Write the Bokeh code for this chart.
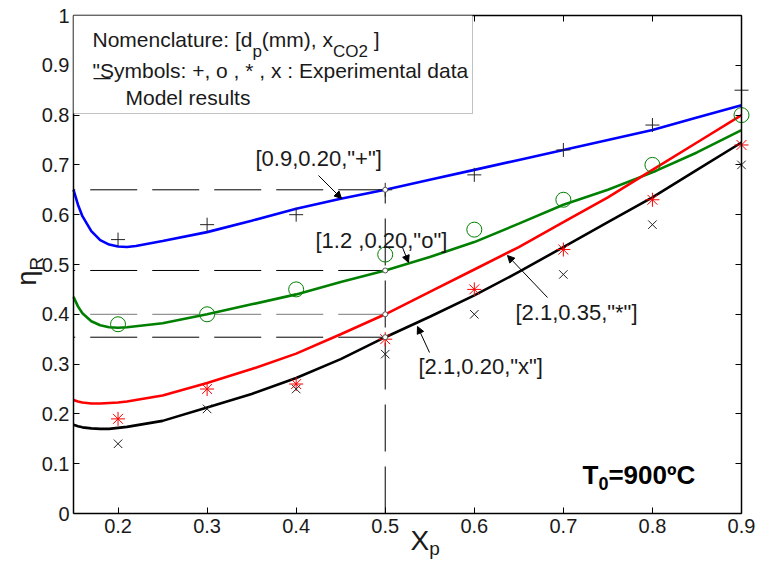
import numpy as np
from bokeh.plotting import figure
from bokeh.models import Range1d, FixedTicker, LinearAxis, Label, Arrow, NormalHead, BoxAnnotation
from bokeh.embed import file_html
from bokeh.resources import INLINE

# ---- model results: eta_R versus X_p for the four runs ----
x_model = [0.15, 0.155, 0.16, 0.17, 0.18, 0.19, 0.20, 0.21, 0.22, 0.25, 0.30, 0.35,
           0.40, 0.45, 0.50, 0.55, 0.60, 0.65, 0.70, 0.75, 0.80, 0.85, 0.90]
eta_09_020 = [0.650, 0.620, 0.597, 0.567, 0.549, 0.540, 0.536, 0.535, 0.537, 0.547, 0.565, 0.588,
              0.612, 0.632, 0.650, 0.670, 0.690, 0.710, 0.730, 0.750, 0.770, 0.795, 0.820]
eta_12_020 = [0.435, 0.416, 0.402, 0.386, 0.378, 0.374, 0.373, 0.374, 0.376, 0.382, 0.400, 0.420,
              0.440, 0.465, 0.488, 0.515, 0.545, 0.582, 0.620, 0.650, 0.685, 0.725, 0.770]
eta_21_035 = [0.228, 0.225, 0.223, 0.221, 0.221, 0.222, 0.223, 0.225, 0.228, 0.237, 0.262, 0.290,
              0.321, 0.360, 0.400, 0.445, 0.490, 0.535, 0.585, 0.635, 0.690, 0.745, 0.800]
eta_21_020 = [0.178, 0.175, 0.173, 0.171, 0.170, 0.170, 0.172, 0.174, 0.177, 0.186, 0.213, 0.240,
              0.272, 0.310, 0.354, 0.395, 0.438, 0.485, 0.535, 0.585, 0.635, 0.690, 0.745]

# ---- experimental data ----
x_exp = [0.2, 0.3, 0.4, 0.5, 0.6, 0.7, 0.8, 0.9]
exp_plus = [0.55, 0.58, 0.60, 0.65, 0.68, 0.73, 0.78, 0.85]     # [0.9, 0.20, "+"]
exp_circle = [0.38, 0.40, 0.45, 0.52, 0.57, 0.63, 0.70, 0.80]   # [1.2, 0.20, "o"]
exp_star = [0.19, 0.25, 0.26, 0.35, 0.45, 0.53, 0.63, 0.74]     # [2.1, 0.35, "*"]
exp_cross = [0.14, 0.21, 0.25, 0.32, 0.40, 0.48, 0.58, 0.70]    # [2.1, 0.20, "x"]

# ---- axes ----
x_ticks = [0.2, 0.3, 0.4, 0.5, 0.6, 0.7, 0.8, 0.9]
x_tick_labels = ["0.2", "0.3", "0.4", "0.5", "0.6", "0.7", "0.8", "0.9"]
y_ticks = [0.0, 0.1, 0.2, 0.3, 0.4, 0.5, 0.6, 0.7, 0.8, 0.9, 1.0]
y_tick_labels = ["0", "0.1", "0.2", "0.3", "0.4", "0.5", "0.6", "0.7", "0.8", "0.9", "1"]
X_MIN, X_MAX = 0.15, 0.9
Y_MIN, Y_MAX = 0.0, 1.0
x_ref = 0.5   # conversion at which the reading lines are drawn

FONT = "Liberation Sans"
INK = "#1a1a1a"
BLUE, GREEN, RED = "#0000ff", "#008000", "#ff0000"

# canvas and the pixel box occupied by the axes
W, H = 757, 561
AX_L, AX_R, AX_T, AX_B = 73, 741, 15, 513
SX = (X_MAX - X_MIN) / (AX_R - AX_L)
SY = (Y_MAX - Y_MIN) / (AX_B - AX_T)


def dx(px):
    return X_MIN + (px - AX_L) * SX


def dy(py):
    return Y_MIN + (AX_B - py) * SY


# the frame fills the whole canvas; the axes sit at fixed data locations inside it,
# so the axis titles and all texts can be laid out freely
p = figure(width=W, height=H, x_range=Range1d(dx(0), dx(W)), y_range=Range1d(dy(H), dy(0)),
           output_backend="svg", toolbar_location=None,
           min_border_left=0, min_border_right=0, min_border_top=0, min_border_bottom=0)
p.grid.visible = False
p.background_fill_color = "white"
p.border_fill_color = "white"
p.outline_line_color = None


def style_axis(ax, ticks, labels, show, loc, bounds):
    ax.fixed_location = loc
    ax.bounds = bounds
    ax.ticker = FixedTicker(ticks=ticks)
    ax.major_label_overrides = {t: (l if show else "") for t, l in zip(ticks, labels)}
    ax.major_tick_in = 6
    ax.major_tick_out = 0
    ax.minor_tick_line_color = None
    ax.axis_line_width = 1.5
    ax.axis_line_color = "black"
    ax.major_tick_line_color = "black"
    ax.major_label_text_font = FONT
    ax.major_label_text_font_size = "20px"
    ax.major_label_text_color = INK
    ax.axis_label = None


style_axis(p.xaxis[0], x_ticks, x_tick_labels, True, Y_MIN, (X_MIN, X_MAX))
p.xaxis[0].major_label_standoff = 5
style_axis(p.yaxis[0], y_ticks, y_tick_labels, True, X_MIN, (Y_MIN, Y_MAX))
p.yaxis[0].major_label_standoff = 4
top_ax = LinearAxis()
style_axis(top_ax, x_ticks, x_tick_labels, False, Y_MAX, (X_MIN, X_MAX))
right_ax = LinearAxis()
style_axis(right_ax, y_ticks, y_tick_labels, False, X_MAX, (Y_MIN, Y_MAX))
p.add_layout(top_ax, "above")
p.add_layout(right_ax, "right")

# ---- reading lines at X_p = 0.5 ----
DASH = "47 15"
curves = [(eta_09_020, BLUE, "black"), (eta_12_020, GREEN, "black"),
          (eta_21_035, RED, "#7a7a7a"), (eta_21_020, "black", "black")]
ref_vals = [float(np.interp(x_ref, x_model, c)) for c, _, _ in curves]
for (c, _, dash_col), yv in zip(curves, ref_vals):
    p.line([x_ref, X_MIN], [yv, yv], line_color=dash_col, line_width=1, line_dash=DASH)
p.line([x_ref, x_ref], [Y_MIN, max(ref_vals)], line_color="black", line_width=1, line_dash=DASH)

# ---- model curves ----
for c, col, _ in curves:
    p.line(x_model, c, line_color=col, line_width=2.6)

# ---- experimental points ----
p.scatter(x_exp, exp_plus, marker="cross", size=14, line_color="#222222", line_width=1)
p.scatter(x_exp, exp_circle, marker="circle", size=15, line_color=GREEN, fill_color=None, line_width=1)
p.scatter(x_exp, exp_star, marker="asterisk", size=14, line_color=RED, line_width=1)
p.scatter(x_exp, exp_cross, marker="x", size=12, line_color="#222222", line_width=1)

# small markers where the reading lines meet the curves
p.scatter([x_ref] * len(ref_vals), ref_vals, marker="circle", size=5,
          line_color="#555555", fill_color="white", line_width=1)

# ---- text helpers (Arial-metric advance widths, 1/1000 em) ----
ADV = {' ': 278, '"': 355, '(': 333, ')': 333, '*': 389, '+': 584, ',': 278, '.': 278,
       ':': 278, '=': 584, '[': 278, ']': 278, 'C': 722, 'E': 667, 'M': 833, 'N': 722,
       'O': 778, 'R': 722, 'S': 667, 'T': 611, 'X': 667, 'a': 556, 'b': 556, 'c': 500,
       'd': 556, 'e': 556, 'i': 222, 'l': 222, 'm': 833, 'n': 556, 'o': 556, 'p': 556,
       'r': 333, 's': 500, 't': 278, 'u': 556, 'x': 500, 'y': 500, 'º': 365, 'η': 556}
MID = 0.34   # distance from the baseline to the middle of a text line, in em


def advance(s, size):
    return sum(ADV.get(ch, 556) for ch in s) * size / 1000.0


def rich(x, y, pieces, angle=0.0, bold=False, color=INK):
    """Lay out text runs along a baseline at (x, y); each run is (text, size_px, drop_px)."""
    off = 0.0
    for text, size, drop in pieces:
        lead = len(text) - len(text.lstrip(" "))
        off += advance(" " * lead, size)
        text = text.strip(" ")
        if angle == 0.0:
            xo, yo = off, MID * size - drop
        else:
            xo, yo = drop - MID * size, off
        p.add_layout(Label(x=x, y=y, x_offset=xo, y_offset=yo, text=text, angle=angle,
                           text_font=FONT, text_font_size=f"{size}px",
                           text_font_style="bold" if bold else "normal",
                           text_color=color, text_align="left", text_baseline="middle"))
        off += advance(text, size)


# ---- nomenclature box ----
p.add_layout(BoxAnnotation(left=X_MIN, right=dx(472), bottom=dy(113), top=Y_MAX,
                           fill_color="white", fill_alpha=1.0, line_color="#333333", line_width=1))
BOX_X = dx(92)
rich(BOX_X, dy(46.5), [("Nomenclature: [d", 21, 0), ("p", 17, 10), ("(mm), x", 21, 0),
                        ("CO2", 17, 10), (" ]", 21, 0)])
rich(BOX_X, dy(77.3), [('"Symbols: +, o , * , x : Experimental data', 21, 0)])
rich(dx(93), dy(83), [("—", 17, 0)])
rich(dx(125), dy(104), [("Model results", 21, 0)])

# ---- run labels with arrows ----
run_labels = [('[0.9,0.20,"+"]', dx(255), dy(158), (dx(318), dy(175)), (dx(341), dy(198))),
              ('[1.2 ,0.20,"o"]', dx(315), dy(240), (dx(402), dy(247)), (dx(408), dy(262))),
              ('[2.1,0.35,"*"]', dx(515), dy(312), (dx(547), dy(297)), (dx(507), dy(255))),
              ('[2.1,0.20,"x"]', dx(418), dy(365.5), (dx(429), dy(352)), (dx(417), dy(326)))]
for text, lx, ly, a0, a1 in run_labels:
    p.add_layout(Label(x=lx, y=ly, text=text, text_font=FONT, text_font_size="22px",
                       text_color=INK, text_align="left", text_baseline="middle"))
    p.add_layout(Arrow(x_start=a0[0], y_start=a0[1], x_end=a1[0], y_end=a1[1],
                       line_color="black", line_width=1,
                       end=NormalHead(size=7, fill_color="black", line_color="black")))

# ---- furnace temperature ----
rich(dx(582), dy(483.5), [("T", 26, 0), ("0", 18, 6), ("=900ºC", 26, 0)], bold=True, color="black")

# ---- axis titles ----
rich(dx(410), dy(550), [("X", 28, 0), ("p", 19, 4)])
rich(dx(36), dy(285), [("η", 27, 0), ("R", 19, 6)], angle=np.pi / 2)

open("out.html", "w").write(file_html(p, INLINE))
